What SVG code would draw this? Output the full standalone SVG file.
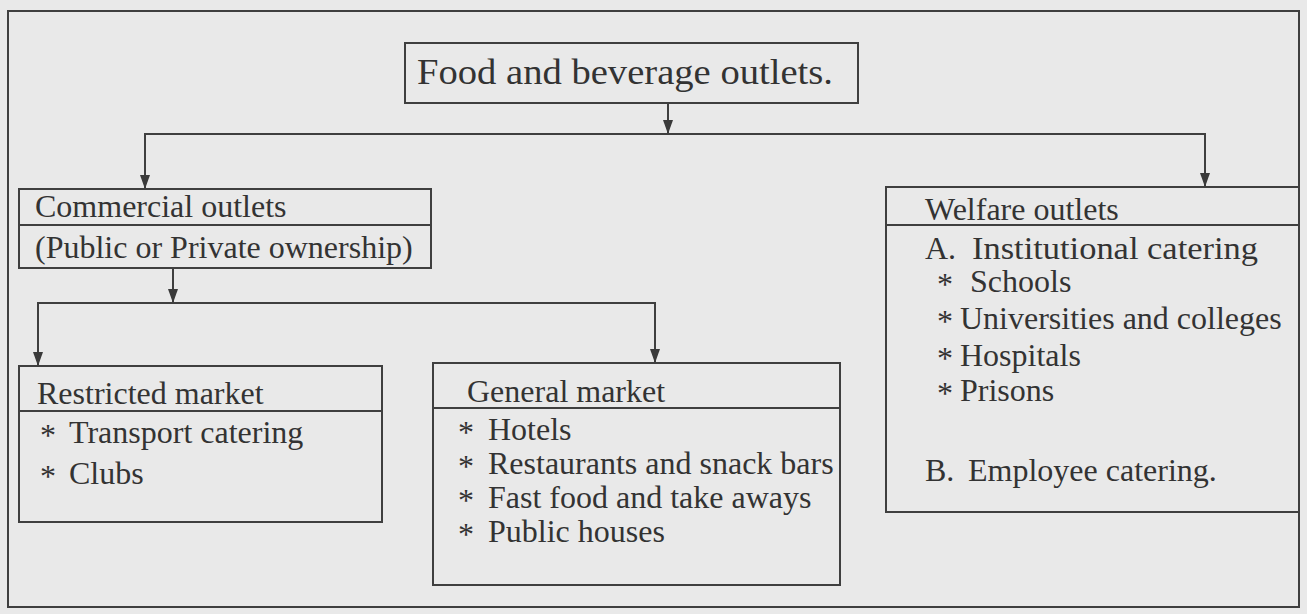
<svg xmlns="http://www.w3.org/2000/svg" width="1307" height="614" viewBox="0 0 1307 614">
<defs>
<marker id="ah" viewBox="0 0 14 10" refX="14" refY="5" markerWidth="14" markerHeight="10" markerUnits="userSpaceOnUse" orient="auto">
<path d="M0,0 L14,5 L0,10 Z" fill="#3a3a3a"/>
</marker>
<style>
.bx{fill:none;stroke:#3f3f3f;stroke-width:2}
.ln{fill:none;stroke:#3f3f3f;stroke-width:2}
.t{font-family:"Liberation Serif","Times New Roman",serif;font-size:32px;fill:#333}
</style>
</defs>
<rect width="1307" height="614" fill="#e9e9e9"/>
<rect class="bx" x="8" y="11" width="1291" height="596"/>
<g id="connectors">
<line class="ln" x1="668" y1="103" x2="668" y2="134" marker-end="url(#ah)"/>
<polyline class="ln" points="145,175 145,134 1205,134 1205,175"/>
<line class="ln" x1="145" y1="160" x2="145" y2="189" marker-end="url(#ah)"/>
<line class="ln" x1="1205" y1="160" x2="1205" y2="187" marker-end="url(#ah)"/>
<line class="ln" x1="173" y1="268" x2="173" y2="303" marker-end="url(#ah)"/>
<polyline class="ln" points="38,340 38,303 655,303 655,340"/>
<line class="ln" x1="38" y1="330" x2="38" y2="366" marker-end="url(#ah)"/>
<line class="ln" x1="655" y1="330" x2="655" y2="363" marker-end="url(#ah)"/>
</g>
<g id="food">
<rect class="bx" x="405" y="43" width="453" height="60"/>
<text class="t" x="417" y="84" style="font-size:36px" textLength="416" lengthAdjust="spacingAndGlyphs">Food and beverage outlets.</text>
</g>
<g id="commercial">
<rect class="bx" x="19" y="189" width="412" height="79"/>
<line class="ln" x1="19" y1="225" x2="431" y2="225"/>
<text class="t" x="35" y="217">Commercial outlets</text>
<text class="t" x="35" y="258">(Public or Private ownership)</text>
</g>
<g id="restricted">
<rect class="bx" x="19" y="366" width="363" height="156"/>
<line class="ln" x1="19" y1="411" x2="382" y2="411"/>
<text class="t" x="37" y="404">Restricted market</text>
<text class="t" x="40" y="446">*</text><text class="t" x="69" y="443">Transport catering</text>
<text class="t" x="40" y="487">*</text><text class="t" x="69" y="484">Clubs</text>
</g>
<g id="general">
<rect class="bx" x="433" y="363" width="407" height="222"/>
<line class="ln" x1="433" y1="408" x2="840" y2="408"/>
<text class="t" x="467" y="402">General market</text>
<text class="t" x="458" y="443">*</text><text class="t" x="488" y="440">Hotels</text>
<text class="t" x="458" y="477">*</text><text class="t" x="488" y="474">Restaurants and snack bars</text>
<text class="t" x="458" y="511">*</text><text class="t" x="488" y="508">Fast food and take aways</text>
<text class="t" x="458" y="545">*</text><text class="t" x="488" y="542">Public houses</text>
</g>
<g id="welfare">
<rect class="bx" x="886" y="187" width="413" height="325"/>
<line class="ln" x1="886" y1="225" x2="1299" y2="225"/>
<text class="t" x="925" y="220">Welfare outlets</text>
<text class="t" x="925" y="259">A.</text><text class="t" x="972" y="259" textLength="286" lengthAdjust="spacingAndGlyphs">Institutional catering</text>
<text class="t" x="937" y="295">*</text><text class="t" x="970" y="292">Schools</text>
<text class="t" x="937" y="332">*</text><text class="t" x="960" y="329">Universities and colleges</text>
<text class="t" x="937" y="369">*</text><text class="t" x="960" y="366">Hospitals</text>
<text class="t" x="937" y="404">*</text><text class="t" x="960" y="401">Prisons</text>
<text class="t" x="925" y="481">B.</text><text class="t" x="968" y="481">Employee catering.</text>
</g>
</svg>
